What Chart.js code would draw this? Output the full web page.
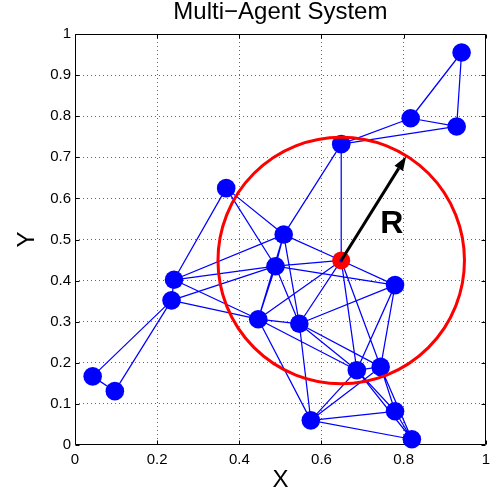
<!DOCTYPE html>
<html><head><meta charset="utf-8">
<script src="https://cdn.jsdelivr.net/npm/chart.js@4"></script>
<style>html,body{margin:0;padding:0;background:#fff}</style>
</head><body>
<canvas id="c" width="496" height="497" style="display:block;width:496px;height:497px"></canvas>
<script>
// ---- data ----
const agentX = [0.043, 0.097, 0.241, 0.235, 0.368, 0.508, 0.648, 0.817, 0.929, 0.941,
                0.648, 0.488, 0.779, 0.446, 0.546, 0.686, 0.744, 0.574, 0.779, 0.820];
const agentY = [0.167, 0.131, 0.402, 0.352, 0.625, 0.512, 0.732, 0.795, 0.775, 0.955,
                0.449, 0.435, 0.389, 0.306, 0.295, 0.182, 0.190, 0.060, 0.082, 0.014];
const leaderIndex = 10;
const edges = [
  [0,1],[0,3],[1,3],
  [2,3],[2,4],[2,5],[2,11],[2,13],
  [3,11],[3,13],
  [4,5],[4,11],
  [5,6],[5,10],[5,11],[5,13],[5,14],
  [6,10],[6,7],[6,8],
  [7,8],[7,9],[8,9],
  [10,11],[10,12],[10,13],[10,14],[10,15],[10,16],
  [11,12],[11,13],[11,14],
  [12,14],[12,15],[12,16],
  [13,14],[13,15],[13,17],
  [14,15],[14,16],[14,17],
  [15,16],[15,17],[15,18],[15,19],
  [16,17],[16,18],[16,19],
  [17,18],[17,19],[18,19]
];
const xTicks = [0, 0.2, 0.4, 0.6, 0.8, 1];
const xTickLabels = ['0', '0.2', '0.4', '0.6', '0.8', '1'];
const yTicks = [0, 0.1, 0.2, 0.3, 0.4, 0.5, 0.6, 0.7, 0.8, 0.9, 1];
const yTickLabels = ['0', '0.1', '0.2', '0.3', '0.4', '0.5', '0.6', '0.7', '0.8', '0.9', '1'];
const radiusR = 0.3;
const arrowTip = [0.806, 0.702];
const rLabelPos = [0.771, 0.538];
const titleText = 'Multi\u2212Agent System';
const xTitle = 'X';
const yTitle = 'Y';

// ---- build datasets ----
const FONT = '"Liberation Sans", Arial, Helvetica, sans-serif';
const edgeData = [];
edges.forEach(([a, b]) => {
  edgeData.push({x: agentX[a], y: agentY[a]}, {x: agentX[b], y: agentY[b]}, {x: agentX[b], y: null});
});
const agentData = agentX.map((v, i) => ({x: v, y: agentY[i]})).filter((p, i) => i !== leaderIndex);
const leaderData = [{x: agentX[leaderIndex], y: agentY[leaderIndex]}];

const overlay = {
  id: 'overlay',
  beforeDatasetsDraw(chart) {
    const {ctx, chartArea: a, scales: {x, y}} = chart;
    ctx.save();
    ctx.strokeStyle = '#000';
    ctx.lineWidth = 1;
    const L = Math.round(a.left) + 0.5, R = Math.round(a.right) - 0.5;
    const T = Math.round(a.top) + 0.5, B = Math.round(a.bottom) - 0.5;
    ctx.beginPath();
    ctx.rect(L, T, R - L, B - T);
    const tl = 4;
    xTicks.forEach(v => {
      const px = Math.round(x.getPixelForValue(v)) + 0.5;
      ctx.moveTo(px, B); ctx.lineTo(px, B - tl);
      ctx.moveTo(px, T); ctx.lineTo(px, T + tl);
    });
    yTicks.forEach(v => {
      const py = Math.round(y.getPixelForValue(v)) + 0.5;
      ctx.moveTo(L, py); ctx.lineTo(L + tl, py);
      ctx.moveTo(R, py); ctx.lineTo(R - tl, py);
    });
    ctx.stroke();
    ctx.restore();
  },
  afterDatasetsDraw(chart) {
    const {ctx, scales: {x, y}} = chart;
    const cx = x.getPixelForValue(agentX[leaderIndex]);
    const cy = y.getPixelForValue(agentY[leaderIndex]);
    const rx = x.getPixelForValue(agentX[leaderIndex] + radiusR) - cx;
    const ry = cy - y.getPixelForValue(agentY[leaderIndex] + radiusR);
    ctx.save();
    ctx.beginPath();
    ctx.ellipse(cx, cy, rx, ry, 0, 0, Math.PI * 2);
    ctx.strokeStyle = '#ff0000';
    ctx.lineWidth = 3;
    ctx.stroke();
    const tx = x.getPixelForValue(arrowTip[0]), ty = y.getPixelForValue(arrowTip[1]);
    const ang = Math.atan2(ty - cy, tx - cx);
    const hl = 14, hw = 5;
    const bx = tx - hl * Math.cos(ang), by = ty - hl * Math.sin(ang);
    ctx.beginPath();
    ctx.moveTo(cx, cy); ctx.lineTo(bx, by);
    ctx.strokeStyle = '#000'; ctx.lineWidth = 3; ctx.stroke();
    ctx.beginPath();
    ctx.moveTo(tx, ty);
    ctx.lineTo(bx + hw * Math.sin(ang), by - hw * Math.cos(ang));
    ctx.lineTo(bx - hw * Math.sin(ang), by + hw * Math.cos(ang));
    ctx.closePath();
    ctx.fillStyle = '#000'; ctx.fill();
    ctx.font = 'bold 32px ' + FONT;
    ctx.textAlign = 'center'; ctx.textBaseline = 'middle';
    ctx.fillText('R', x.getPixelForValue(rLabelPos[0]), y.getPixelForValue(rLabelPos[1]));
    ctx.restore();
  }
};

const gridColor = (c) => (c.tick && (c.tick.value === 0 || c.tick.value === 1)) ? 'rgba(0,0,0,0)' : 'rgba(0,0,0,0.6)';

new Chart(document.getElementById('c'), {
  type: 'scatter',
  data: {
    datasets: [
      {data: leaderData, pointRadius: 2, pointBackgroundColor: '#0000ff', pointBorderWidth: 0, showLine: false, order: 0, clip: false},
      {data: leaderData, pointRadius: 9, pointBackgroundColor: '#ff0000', pointBorderWidth: 0, showLine: false, order: 1, clip: false},
      {data: agentData, pointRadius: 9.3, pointBackgroundColor: '#0000ff', pointBorderWidth: 0, showLine: false, order: 2, clip: false},
      {data: edgeData, showLine: true, spanGaps: false, pointRadius: 0, borderColor: '#0000ff', borderWidth: 1.25, order: 3}
    ]
  },
  options: {
    responsive: false,
    animation: false,
    events: [],
    devicePixelRatio: 1,
    layout: {padding: {left: 0, right: 9, top: 0, bottom: 0}},
    plugins: {
      legend: {display: false},
      tooltip: {enabled: false},
      title: {display: true, fullSize: false, text: titleText, color: '#000',
        font: {family: FONT, size: 24, weight: 'normal', lineHeight: 1}, padding: {top: 0, bottom: 10}}
    },
    scales: {
      x: {
        type: 'linear', min: 0, max: 1,
        afterBuildTicks: s => { s.ticks = xTicks.map(v => ({value: v})); },
        afterFit: s => { s.height = 52; },
        ticks: {callback: (v, i) => xTickLabels[i], color: '#000', font: {family: FONT, size: 15}, padding: 6, maxRotation: 0},
        grid: {drawTicks: false, color: gridColor, lineWidth: 1},
        border: {display: false, dash: [1, 3]},
        title: {display: true, text: xTitle, color: '#000', font: {family: FONT, size: 24, lineHeight: 1.2}, padding: {top: 0, bottom: 2}}
      },
      y: {
        type: 'linear', min: 0, max: 1,
        afterBuildTicks: s => { s.ticks = yTicks.map(v => ({value: v})); },
        afterFit: s => { s.width = 75; },
        ticks: {callback: (v, i) => yTickLabels[i], color: '#000', font: {family: FONT, size: 15}, padding: 4},
        grid: {drawTicks: false, color: gridColor, lineWidth: 1},
        border: {display: false, dash: [1, 3]},
        title: {display: true, text: yTitle, color: '#000', font: {family: FONT, size: 24, lineHeight: 1.2}, padding: {top: 13, bottom: 0}}
      }
    }
  },
  plugins: [overlay]
});
</script>
</body></html>
